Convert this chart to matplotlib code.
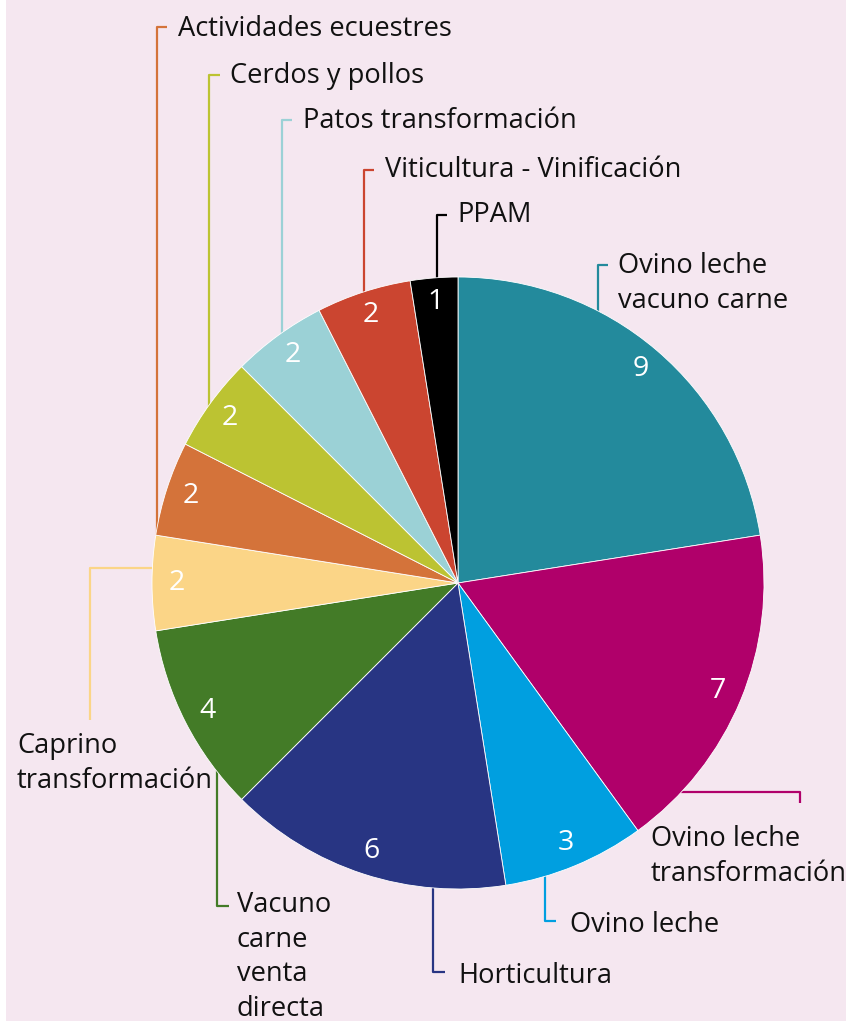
import matplotlib.pyplot as plt
from matplotlib.patches import Rectangle

W, H = 846, 1021

# data, clockwise from the top
categories = ["Ovino leche\nvacuno carne", "Ovino leche\ntransformación", "Ovino leche",
              "Horticultura", "Vacuno\ncarne\nventa\ndirecta", "Caprino\ntransformación",
              "Actividades ecuestres", "Cerdos y pollos", "Patos transformación",
              "Viticultura - Vinificación", "PPAM"]
values = [9, 7, 3, 6, 4, 2, 2, 2, 2, 2, 1]
colors = ["#238a9c", "#b0006a", "#009fe0", "#283583", "#437b27", "#fbd587",
          "#d4733a", "#bcc332", "#9bd1d6", "#cb4530", "#000000"]

# label layout in pixel coords (top-left origin): text x, first baseline, leader line points
layout = [
    (618, 273, [(598, 330), (598, 265), (608, 265)]),
    (651, 846, [(660, 792), (800, 792), (800, 803)]),
    (570, 932, [(545, 860), (545, 921), (556, 921)]),
    (458, 983, [(433, 870), (433, 972), (445, 972)]),
    (237, 912, [(217, 760), (217, 906), (229, 906)]),
    (17, 753, [(175, 568), (90, 568), (90, 720)]),
    (178, 36, [(167, 27), (157, 27), (157, 540)]),
    (230, 83, [(220, 75), (209, 75), (209, 420)]),
    (303, 128, [(292, 120), (282, 120), (282, 350)]),
    (385, 177, [(374, 170), (364, 170), (364, 305)]),
    (457, 222, [(447, 215), (437, 215), (437, 295)]),
]
line_step = 34.5

plt.rcParams['font.family'] = ['Open Sans', 'DejaVu Sans']

fig = plt.figure(figsize=(W / 100, H / 100), dpi=100)
fig.patch.set_facecolor("#f5e7f0")
ax = fig.add_axes([0, 0, 1, 1])
ax.set_facecolor("#f5e7f0")

total = sum(values)
wedges, texts, autotexts = ax.pie(
    values, colors=colors, startangle=90, counterclock=False,
    center=(458, H - 583), radius=306, frame=True,
    autopct=lambda p: "%d" % round(p * total / 100), pctdistance=0.92,
    wedgeprops=dict(edgecolor="white", linewidth=0.6, zorder=3),
    textprops=dict(color="white", fontsize=20.5))
for t in autotexts:
    t.set_zorder(4)

for (tx, ty, pts), name, c in zip(layout, categories, colors):
    xs = [p[0] for p in pts]
    ys = [H - p[1] for p in pts]
    ax.plot(xs, ys, color=c, lw=1.6, solid_capstyle="butt", zorder=2)
    for i, line in enumerate(name.split("\n")):
        ax.text(tx, H - (ty + i * line_step), line, fontsize=19.6, color="#111111",
                ha="left", va="baseline", zorder=5)

ax.set_xlim(0, W)
ax.set_ylim(0, H)
ax.axis("off")

fig.patches.append(Rectangle((0, 0), 6 / W, 1, transform=fig.transFigure,
                             facecolor="white", edgecolor="none", zorder=10))

fig.savefig("out.png", dpi=100, facecolor=fig.get_facecolor())
